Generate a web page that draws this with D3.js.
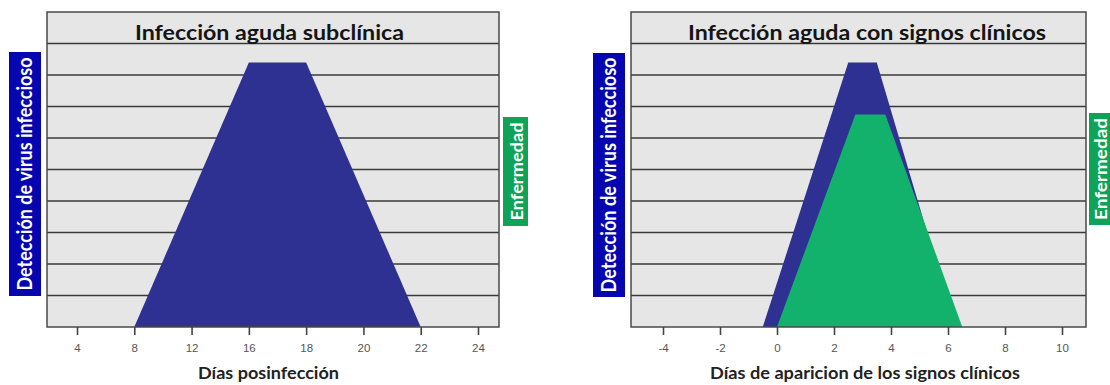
<!DOCTYPE html>
<html>
<head>
  <title>Infección aguda</title>
  <style>
    body { margin: 0; background: #fff; }
    .chart { font-family: Lato, 'Open Sans', sans-serif; }
    .chart .plot-bg { fill: #e5e6e5; }
    .chart .frame { fill: none; stroke: #4a4a4a; stroke-width: 1.5; }
    .chart .grid line { stroke: #3a3a3a; stroke-width: 1.6; }
    .chart .axis path { display: none; }
    .chart .axis line { stroke: #444; stroke-width: 1.6; }
    .chart .axis text { font-family: Arial, sans-serif; font-size: 11.5px; fill: #555; }
    .chart .title { font-size: 21px; font-weight: bold; fill: #141414; }
    .chart .xlabel { font-size: 17px; font-weight: bold; fill: #222; }
    .chart .box-label { font-size: 18px; font-weight: bold; fill: #fff; }
  </style>
</head>
<body>
  <svg id="chart" class="chart" width="1110" height="385"></svg>

  <script src="https://d3js.org/d3.v7.min.js"></script>
  <script>
    // Panel 1: subclinical infection (x axis has uneven tick values)
    const leftTicks = ['4', '8', '12', '16', '18', '20', '22', '24'];
    const leftVirus = [['8', 0], ['16', 8.4], ['18', 8.4], ['22', 0]];

    // Panel 2: infection with clinical signs
    const rightTicks = [-4, -2, 0, 2, 4, 6, 8, 10];
    const rightVirus = [[-0.5, 0], [2.5, 8.4], [3.5, 8.4], [6.25, 0]];
    const rightDisease = [[0, 0], [2.75, 6.75], [3.8, 6.75], [6.5, 0]];

    const yLevels = [1, 2, 3, 4, 5, 6, 7, 8, 9];

    const svg = d3.select('#chart');
    const plotTop = 12, plotBottom = 327;
    const yScale = d3.scaleLinear().domain([0, 10]).range([plotBottom, plotTop]);

    const virusColor = '#2e3191';
    const diseaseColor = '#12b26c';

    function drawPanel(opts) {
      const g = svg.append('g');
      const x = opts.x;

      // background
      g.append('rect')
        .attr('class', 'plot-bg')
        .attr('x', opts.left).attr('y', plotTop)
        .attr('width', opts.right - opts.left).attr('height', plotBottom - plotTop);

      // horizontal lines
      g.append('g').attr('class', 'grid')
        .selectAll('line')
        .data(yLevels)
        .enter().append('line')
        .attr('x1', opts.left).attr('x2', opts.right)
        .attr('y1', d => yScale(d)).attr('y2', d => yScale(d));

      // areas
      const area = d3.line().x(d => x(d[0])).y(d => yScale(d[1]));
      opts.shapes.forEach(s => {
        g.append('path')
          .attr('d', area(s.data) + 'Z')
          .attr('fill', s.color);
      });

      g.append('rect')
        .attr('class', 'frame')
        .attr('x', opts.left).attr('y', plotTop)
        .attr('width', opts.right - opts.left).attr('height', plotBottom - plotTop);

      // x axis (plain hyphen for negatives, like the original)
      g.append('g')
        .attr('class', 'axis')
        .attr('transform', `translate(0,${plotBottom})`)
        .call(d3.axisBottom(x).tickValues(opts.ticks).tickFormat(d => String(d))
          .tickSize(8).tickPadding(9));

      // title
      g.append('text')
        .attr('class', 'title')
        .attr('x', opts.titleX).attr('y', 40)
        .attr('textLength', opts.titleW).attr('lengthAdjust', 'spacingAndGlyphs')
        .text(opts.title);

      g.append('text')
        .attr('class', 'xlabel')
        .attr('x', opts.xlabelX).attr('y', 379)
        .attr('textLength', opts.xlabelW).attr('lengthAdjust', 'spacingAndGlyphs')
        .text(opts.xlabel);

      // side boxes
      opts.boxes.forEach(b => {
        g.append('rect')
          .attr('x', b.x).attr('y', b.y).attr('width', b.w).attr('height', b.h)
          .attr('fill', b.color);
        g.append('text')
          .attr('class', 'box-label')
          .attr('transform', `translate(${b.x + b.w / 2 + 7},${b.y + b.h / 2}) rotate(-90)`)
          .attr('text-anchor', 'middle')
          .attr('textLength', b.tl).attr('lengthAdjust', 'spacingAndGlyphs')
          .style('font-size', b.fs + 'px')
          .text(b.text);
      });
    }

    drawPanel({
      left: 47, right: 499,
      x: d3.scalePoint().domain(leftTicks).range([77, 478]),
      ticks: leftTicks,
      shapes: [{ data: leftVirus, color: virusColor }],
      title: 'Infección aguda subclínica', titleX: 135, titleW: 269,
      xlabel: 'Días posinfección', xlabelX: 198, xlabelW: 141,
      boxes: [
        { x: 9, y: 52, w: 32, h: 244, color: '#0606b0', text: 'Detección de virus infeccioso', tl: 233, fs: 20 },
        { x: 503, y: 117, w: 25, h: 109, color: '#0ea356', text: 'Enfermedad', tl: 98, fs: 17 }
      ]
    });

    drawPanel({
      left: 631, right: 1086,
      x: d3.scaleLinear().domain([-4, 10]).range([663, 1062]),
      ticks: rightTicks,
      shapes: [{ data: rightVirus, color: virusColor }, { data: rightDisease, color: diseaseColor }],
      title: 'Infección aguda con signos clínicos', titleX: 688, titleW: 358,
      xlabel: 'Días de aparicion de los signos clínicos', xlabelX: 710, xlabelW: 310,
      boxes: [
        { x: 593, y: 53, w: 32, h: 244, color: '#0606b0', text: 'Detección de virus infeccioso', tl: 235, fs: 20 },
        { x: 1089, y: 113, w: 21, h: 112, color: '#0ea356', text: 'Enfermedad', tl: 102, fs: 17 }
      ]
    });
  </script>
</body>
</html>
